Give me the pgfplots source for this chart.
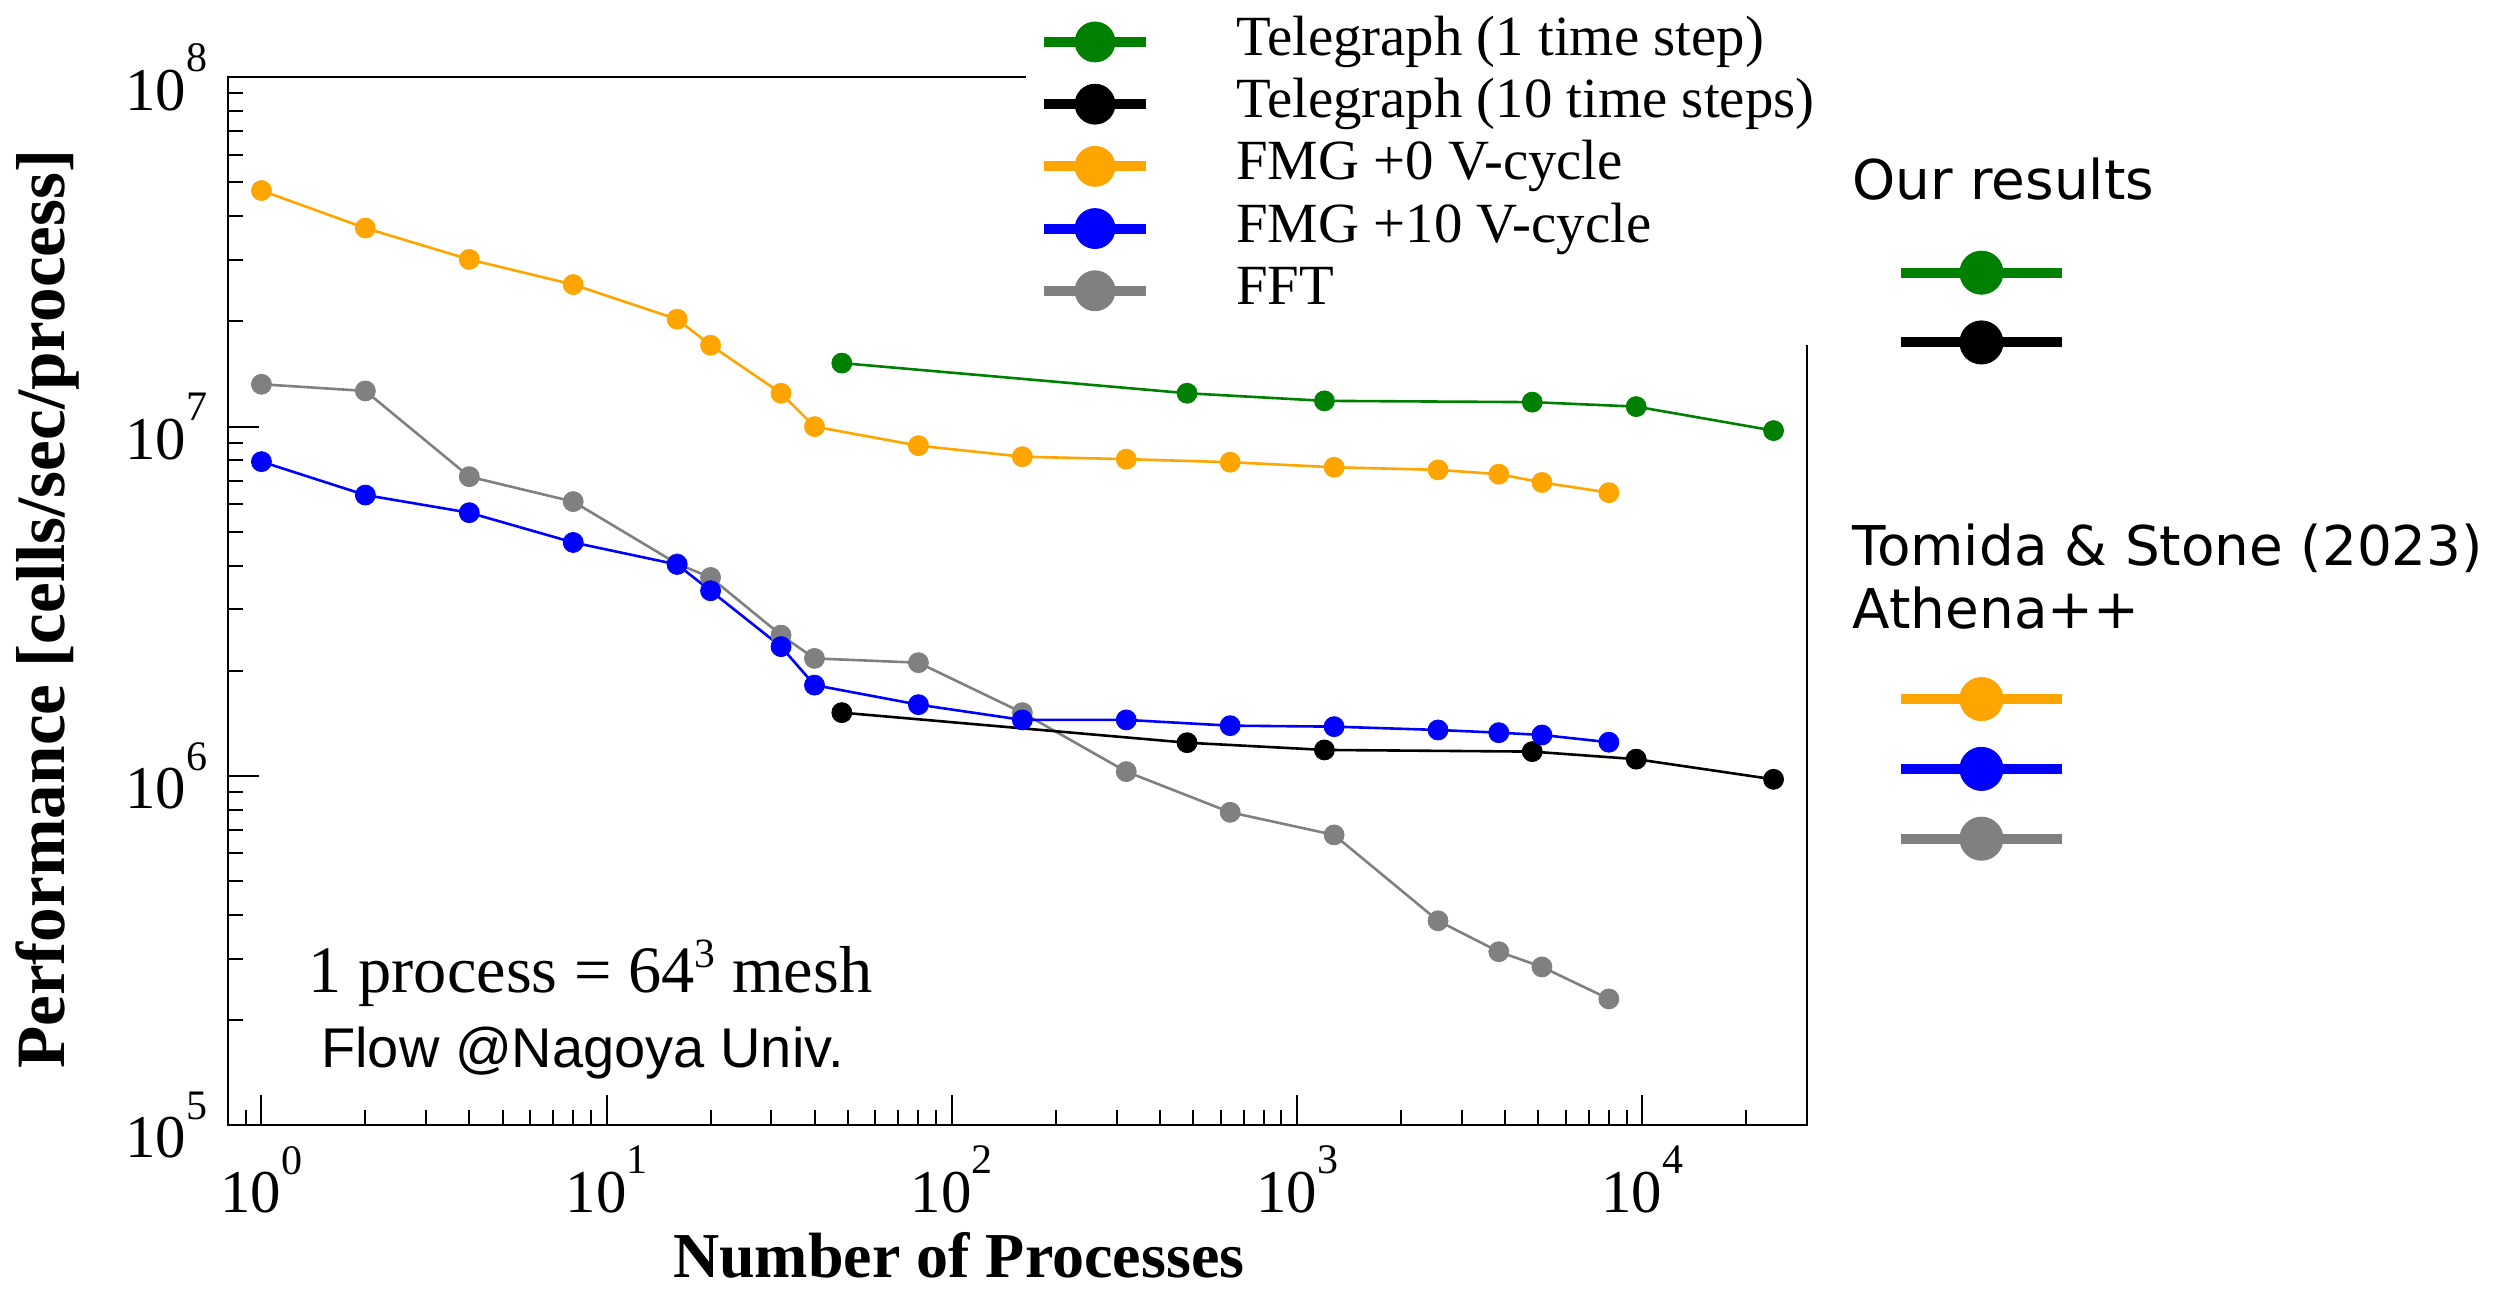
\documentclass[border=0pt]{standalone}
\usepackage{fontspec}
\setmainfont{Liberation Serif}
\newfontfamily\sansfont{DejaVu Sans}
\newfontfamily\flowfont{Liberation Sans}
\usepackage{pgfplots}
\pgfplotsset{compat=1.18}
\definecolor{cgreen}{RGB}{0,128,0}
\definecolor{corange}{RGB}{255,165,0}
\definecolor{cblue}{RGB}{0,0,255}
\definecolor{cgray}{RGB}{128,128,128}
\newcommand{\tp}[1]{10\raisebox{9.6pt}{\fontsize{10.5pt}{10.5pt}\selectfont #1}}
\pgfplotsset{
  sgreen/.style={color=cgreen, line width=0.65pt, mark=*, mark size=2.5pt, mark options={line width=0.2pt}},
  sblack/.style={color=black, line width=0.65pt, mark=*, mark size=2.5pt, mark options={line width=0.2pt}},
  sorange/.style={color=corange, line width=0.65pt, mark=*, mark size=2.5pt, mark options={line width=0.2pt}},
  sblue/.style={color=cblue, line width=0.65pt, mark=*, mark size=2.5pt, mark options={line width=0.2pt}},
  sgray/.style={color=cgray, line width=0.65pt, mark=*, mark size=2.5pt, mark options={line width=0.2pt}},
  common/.style={at={(0pt,0pt)}, anchor=south west, width=394.75pt, height=262pt, scale only axis},
}
\begin{document}
\begin{tikzpicture}
\path[use as bounding box] (-57pt,-40.675pt) rectangle (571.5pt,281.325pt);
\begin{axis}[common,
  xmode=log, ymode=log,
  xmin=0.8, xmax=30000, ymin=1e5, ymax=1e8,
  axis line style={line width=0.5pt},
  tick align=inside, xtick pos=bottom, ytick pos=left,
  major tick length=7.7pt, minor tick length=3.8pt,
  tick style={black, line width=0.5pt},
  xtick={1,10,100,1000,10000},
  xticklabels={\tp{0},\tp{1},\tp{2},\tp{3},\tp{4}},
  minor xtick={0.9,2,3,4,5,6,7,8,9,20,30,40,50,60,70,80,90,200,300,400,500,600,700,800,900,2000,3000,4000,5000,6000,7000,8000,9000,20000},
  ytick={1e5,1e6,1e7,1e8},
  yticklabels={\tp{5},\tp{6},\tp{7},\tp{8}},
  minor ytick={2e5,3e5,4e5,5e5,6e5,7e5,8e5,9e5,2e6,3e6,4e6,5e6,6e6,7e6,8e6,9e6,2e7,3e7,4e7,5e7,6e7,7e7,8e7,9e7},
  tick label style={font=\fontsize{15.2pt}{16pt}\selectfont, inner sep=0pt},
  xticklabel style={anchor=north, yshift=-5pt},
  yticklabel style={anchor=east, xshift=-5pt},
  xlabel={Number of Processes},
  xlabel style={at={(axis description cs:0.4628,-0.1457)}, anchor=base, font=\bfseries\fontsize{16pt}{18pt}\selectfont, inner sep=0pt},
  ylabel={Performance [cells/sec/process]},
  ylabel style={at={(axis description cs:-0.114,0.4924)}, anchor=center, font=\bfseries\fontsize{17.3pt}{19pt}\selectfont, inner sep=0pt},
  legend cell align=left,
  legend style={at={(axis description cs:0.5054,1.0855)}, anchor=north west, draw=none, fill=white,
    inner xsep=3.25pt, inner ysep=5.8pt, outer sep=0pt, row sep=0pt,
    font=\fontsize{14.2pt}{15pt}\selectfont,
    nodes={inner sep=0pt, text height=9.9pt, text depth=3.1pt}},
  legend image code/.code={%
    \path (0pt,-7.45pt) (47.75pt,7.45pt);
    \draw[#1, line width=2.5pt, mark size=5pt, mark repeat=2, mark phase=2] plot coordinates {(0pt,0pt) (12.75pt,0pt) (25.5pt,0pt)};},
  clip=false,
]
\addplot[sgray, forget plot] coordinates {(1,1.322e7) (2,1.265e7) (4,7.19e6) (8,6.10e6) (16,4.05e6) (20,3.70e6) (32,2.53e6) (40,2.17e6) (80,2.11e6) (160,1.518e6) (320,1.029e6) (640,7.87e5) (1280,6.78e5) (2560,3.85e5) (3840,3.14e5) (5120,2.84e5) (8000,2.30e5)};
\addplot[sblack, forget plot] coordinates {(48,1.518e6) (480,1.245e6) (1200,1.187e6) (4800,1.174e6) (9600,1.117e6) (24000,9.78e5)};
\addplot[sgreen, forget plot] coordinates {(48,1.52e7) (480,1.246e7) (1200,1.185e7) (4800,1.175e7) (9600,1.141e7) (24000,9.74e6)};
\addplot[sorange, forget plot] coordinates {(1,4.74e7) (2,3.70e7) (4,3.01e7) (8,2.55e7) (16,2.03e7) (20,1.71e7) (32,1.246e7) (40,1.0e7) (80,8.82e6) (160,8.2e6) (320,8.07e6) (640,7.91e6) (1280,7.65e6) (2560,7.52e6) (3840,7.31e6) (5120,6.92e6) (8000,6.47e6)};
\addplot[sblue, forget plot] coordinates {(1,7.94e6) (2,6.37e6) (4,5.67e6) (8,4.66e6) (16,4.03e6) (20,3.39e6) (32,2.345e6) (40,1.82e6) (80,1.60e6) (160,1.447e6) (320,1.447e6) (640,1.393e6) (1280,1.384e6) (2560,1.354e6) (3840,1.33e6) (5120,1.31e6) (8000,1.249e6)};
\addlegendimage{sgreen}\addlegendentry{Telegraph (1 time step)}
\addlegendimage{sblack}\addlegendentry{Telegraph (10 time steps)}
\addlegendimage{sorange}\addlegendentry{FMG +0 V-cycle}
\addlegendimage{sblue}\addlegendentry{FMG +10 V-cycle}
\addlegendimage{sgray}\addlegendentry{FFT}
\node[anchor=base west, inner sep=0pt, font=\fontsize{16.6pt}{18pt}\selectfont] at (axis description cs:0.0507,0.1269) {1 process = 64\raisebox{6.3pt}{\fontsize{10.4pt}{10.4pt}\selectfont 3} mesh};
\node[anchor=base west, inner sep=0pt, font=\flowfont\fontsize{14pt}{16pt}\selectfont] at (axis description cs:0.0586,0.0547) {Flow @Nagoya Univ.};
\end{axis}
\begin{axis}[common, hide axis, xmin=0, xmax=1, ymin=0, ymax=1, clip=false,
  legend style={at={(axis description cs:1.0563,0.8469)}, anchor=north west, draw=none, fill=none,
    inner sep=0pt, outer sep=0pt, row sep=0pt, nodes={inner sep=0pt}},
  legend image code/.code={%
    \path (0pt,-8.4pt) (40.25pt,8.4pt);
    \draw[#1, line width=2.5pt, mark size=5.4pt, mark repeat=2, mark phase=2] plot coordinates {(0pt,0pt) (20.125pt,0pt) (40.25pt,0pt)};},
]
\addlegendimage{sgreen}\addlegendentry{}
\addlegendimage{sblack}\addlegendentry{}
\node[anchor=base west, inner sep=0pt, font=\sansfont\fontsize{13.7pt}{15pt}\selectfont] at (axis description cs:1.0285,0.8836) {Our results};
\node[anchor=base west, inner sep=0pt, font=\sansfont\fontsize{13.7pt}{15pt}\selectfont] at (axis description cs:1.0285,0.5344) {Tomida \& Stone (2023)};
\node[anchor=base west, inner sep=0pt, font=\sansfont\fontsize{13.7pt}{15pt}\selectfont] at (axis description cs:1.0285,0.4742) {Athena++};
\end{axis}
\begin{axis}[common, hide axis, xmin=0, xmax=1, ymin=0, ymax=1, clip=false,
  legend style={at={(axis description cs:1.0563,0.4400)}, anchor=north west, draw=none, fill=none,
    inner sep=0pt, outer sep=0pt, row sep=0pt, nodes={inner sep=0pt}},
  legend image code/.code={%
    \path (0pt,-8.4pt) (40.25pt,8.4pt);
    \draw[#1, line width=2.5pt, mark size=5.4pt, mark repeat=2, mark phase=2] plot coordinates {(0pt,0pt) (20.125pt,0pt) (40.25pt,0pt)};},
]
\addlegendimage{sorange}\addlegendentry{}
\addlegendimage{sblue}\addlegendentry{}
\addlegendimage{sgray}\addlegendentry{}
\end{axis}
\end{tikzpicture}
\end{document}
